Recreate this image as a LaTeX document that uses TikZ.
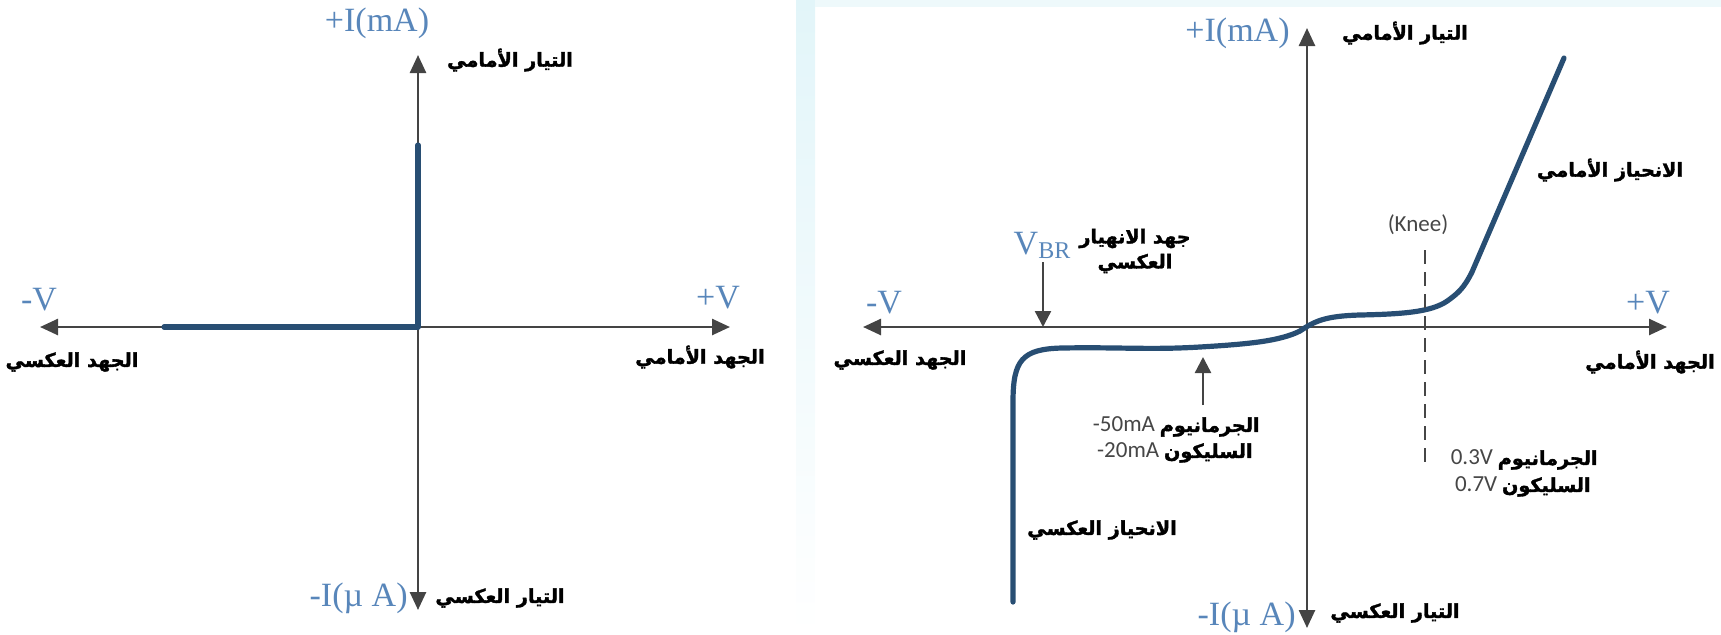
\documentclass[tikz,border=0pt]{standalone}
\usepackage{fontspec}
\setmainfont{Liberation Serif}
\newfontfamily\arabicfont[Script=Arabic, BoldFeatures={FakeBold=1.8}]{DejaVu Sans}
\newfontfamily\numfont{Carlito}
\TeXXeTstate=1
\usetikzlibrary{arrows.meta,positioning}
\definecolor{axisgray}{RGB}{68,68,68}
\definecolor{curveblue}{RGB}{40,78,115}
\definecolor{labelblue}{RGB}{88,134,186}
\definecolor{notegray}{RGB}{70,70,70}
\definecolor{edgecyan}{RGB}{226,245,249}

\begin{document}
\begin{tikzpicture}[x=0.5pt, y=-0.5pt]
    \tikzstyle{axis} = [draw=axisgray, line width=1.3pt, -{Triangle[length=9pt,width=8pt]}]
    \tikzstyle{pointer} = [draw=axisgray, line width=1.2pt, -{Triangle[length=8pt,width=8pt]}]
    \tikzstyle{curve} = [draw=curveblue, line width=2.6pt, line cap=round, line join=round]
    \tikzstyle{axislabel} = [text=labelblue, font=\fontsize{17}{17}\selectfont, inner sep=0pt]
    \tikzstyle{arlabel} = [font=\arabicfont\bfseries\fontsize{9.6}{12.5}\selectfont, inner sep=0pt, align=center]
    \tikzstyle{note} = [font=\numfont\fontsize{11.5}{14}\selectfont, text=notegray, inner sep=0pt]

    \useasboundingbox (0,0) rectangle (1721,634);
    % light edge between the two panels
    \shade[top color=edgecyan, bottom color=white] (796,0) rectangle (815,634);
    \fill[edgecyan!60] (815,0) rectangle (1721,7);

    % left panel: ideal diode
    \coordinate (O1) at (418,327);
    \coordinate (top1) at (418,55);
    \coordinate (bot1) at (418,610);
    \coordinate (left1) at (40,327);
    \coordinate (right1) at (730,327);
    \path [axis] (O1) -- (top1);
    \path [axis] (O1) -- (bot1);
    \path [axis] (O1) -- (left1);
    \path [axis] (O1) -- (right1);
    \coordinate (rev1) at (164,327);
    \coordinate (fwd1) at (418,145);
    \path [curve] (rev1) -- (O1) -- (fwd1);

    \node [axislabel] (ipos1) at (377,23) {+I(mA)};
    \node [arlabel] (fcur1) at (510,60) {\beginR التيار الأمامي\endR};
    \node [axislabel] (vneg1) at (39,300) {-V};
    \node [arlabel] (rvol1) at (72,362) {\beginR الجهد العكسي\endR};
    \node [axislabel] (vpos1) at (718,298) {+V};
    \node [arlabel] (fvol1) at (700,357) {\beginR الجهد الأمامي\endR};
    \node [axislabel, anchor=east] (ineg1) at (408,598) {-I(µ A)};
    \node [arlabel] (rcur1) at (500,598) {\beginR التيار العكسي\endR};

    % right panel: real diode
    \coordinate (O2) at (1307,327);
    \coordinate (top2) at (1307,28);
    \coordinate (bot2) at (1307,628);
    \coordinate (left2) at (863,327);
    \coordinate (right2) at (1667,327);
    \path [axis] (O2) -- (top2);
    \path [axis] (O2) -- (bot2);
    \path [axis] (O2) -- (left2);
    \path [axis] (O2) -- (right2);

    \path [curve] (1013,602) -- (1013,402)
        .. controls (1013,360) and (1022,349) .. (1062,348)
        .. controls (1120,347) and (1150,350) .. (1200,347)
        .. controls (1250,344) and (1280,341) .. (1300,331)
        .. controls (1315,321) and (1325,316) .. (1360,315)
        .. controls (1410,314) and (1435,311) .. (1450,299)
        .. controls (1458,293) and (1464,288) .. (1472,272)
        -- (1564,58);

    \node [axislabel, anchor=east] (ipos2) at (1290,33) {+I(mA)};
    \node [arlabel] (fcur2) at (1405,33) {\beginR التيار الأمامي\endR};
    \node [axislabel] (vneg2) at (884,303) {-V};
    \node [arlabel] (rvol2) at (900,360) {\beginR الجهد العكسي\endR};
    \node [axislabel] (vpos2) at (1648,303) {+V};
    \node [arlabel] (fvol2) at (1650,362) {\beginR الجهد الأمامي\endR};
    \node [axislabel, anchor=east] (ineg2) at (1296,617) {-I(µ A)};
    \node [arlabel] (rcur2) at (1395,613) {\beginR التيار العكسي\endR};
    \node [arlabel] (fbias) at (1610,170) {\beginR الانحياز الأمامي\endR};
    \node [arlabel] (rbias) at (1102,530) {\beginR الانحياز العكسي\endR};

    % breakdown voltage
    \node [axislabel] (vbr) at (1042,245) {V{\fontsize{12}{12}\selectfont\raisebox{-2pt}{BR}}};
    \node [arlabel] (vbrtext) at (1135,251) {\beginR جهد الانهيار\endR\\\beginR العكسي\endR};
    \coordinate (vbrstart) at (1043,262);
    \coordinate (vbrtip) at (1043,327);
    \path [pointer] (vbrstart) -- (vbrtip);

    % leakage current
    \node [arlabel, anchor=east] (gerleak) at (1260,427) {\beginR الجرمانيوم\endR};
    \node [note, anchor=base east] (gerleakval) at ([xshift=-2pt]gerleak.base west) {-50mA};
    \node [arlabel, anchor=east] (silleak) at (1253,453) {\beginR السليكون\endR};
    \node [note, anchor=base east] (silleakval) at ([xshift=-2pt]silleak.base west) {-20mA};
    \coordinate (leakstart) at (1203,405);
    \coordinate (leaktip) at (1203,357);
    \path [pointer] (leakstart) -- (leaktip);

    % knee voltage
    \node [note] (knee) at (1418,225) {(Knee)};
    \coordinate (kneetop) at (1425,250);
    \coordinate (kneebot) at (1425,468);
    \draw [notegray, line width=0.8pt, dash pattern=on 7pt off 4pt] (kneetop) -- (kneebot);
    \node [arlabel, anchor=east] (gerknee) at (1598,460) {\beginR الجرمانيوم\endR};
    \node [note, anchor=base east] (gerkneeval) at ([xshift=-2pt]gerknee.base west) {0.3V};
    \node [arlabel, anchor=east] (silknee) at (1591,487) {\beginR السليكون\endR};
    \node [note, anchor=base east] (silkneeval) at ([xshift=-2pt]silknee.base west) {0.7V};
\end{tikzpicture}
\end{document}
